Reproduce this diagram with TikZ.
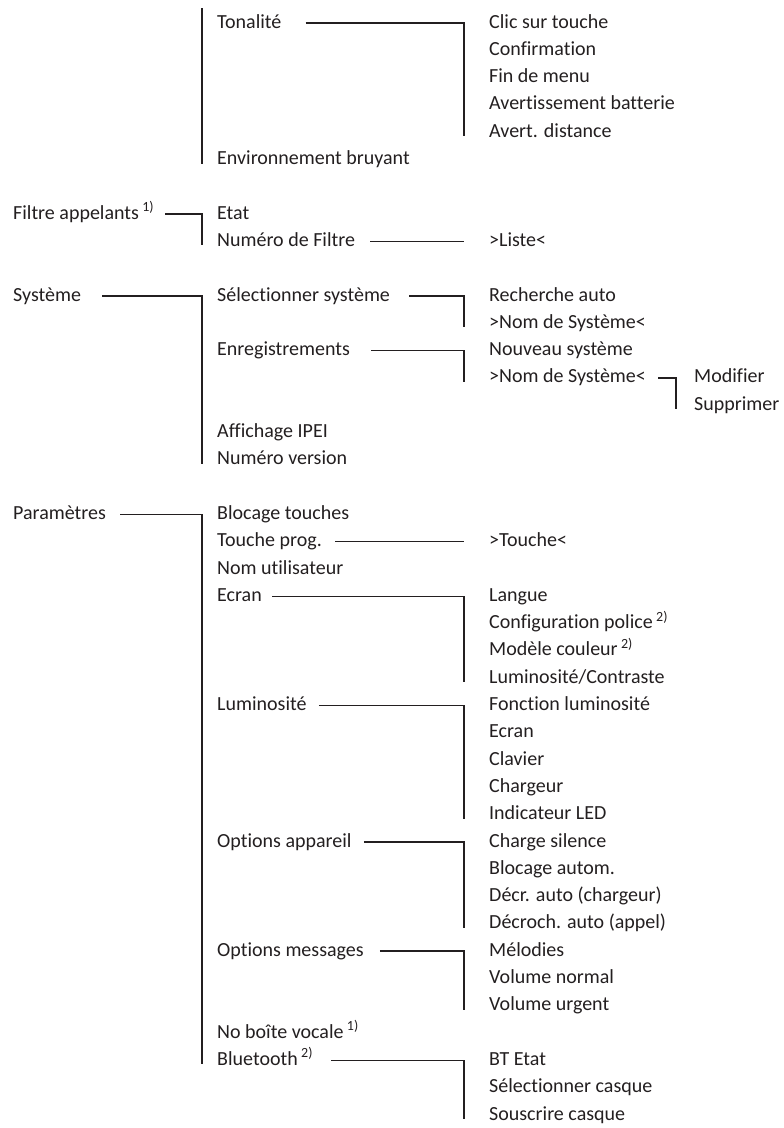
\documentclass[tikz,border=0pt]{standalone}
\usepackage{fontspec}
\setmainfont[Ligatures=NoCommon]{Carlito}
\definecolor{ink}{HTML}{231F20}
\newcommand{\fn}[1]{\,\textsuperscript{#1)}}

\begin{document}
\begin{tikzpicture}[
  x=1pt,y=-1pt,
  font=\fontsize{20}{24}\selectfont,
  item/.style={anchor=west,inner sep=0pt,text height=14pt,text depth=4pt,text=ink},
  link/.style={draw=ink,line width=1.5pt},
]
\useasboundingbox (0,0) rectangle (784,1128);
% level 1
\node[item] (filtre) at (13,214.1) {Filtre appelants\fn{1}};
\node[item] (sys) at (13,296) {Système};
\node[item] (param) at (13,514.4) {Paramètres};
% level 2
\node[item] (ton) at (217,23) {Tonalité};
\node[item] (env) at (217,159.5) {Environnement bruyant};
\node[item] (etat) at (217,214.1) {Etat};
\node[item] (numf) at (217,241.4) {Numéro de Filtre};
\node[item] (selsys) at (217,296) {Sélectionner système};
\node[item] (enreg) at (217,350.6) {Enregistrements};
\node[item] (ipei) at (217,432.5) {Affichage IPEI};
\node[item] (version) at (217,459.8) {Numéro version};
\node[item] (bloc) at (217,514.4) {Blocage touches};
\node[item] (tprog) at (217,541.7) {Touche prog.};
\node[item] (nomut) at (217,569) {Nom utilisateur};
\node[item] (ecran) at (217,596.3) {Ecran};
\node[item] (lum) at (217,705.5) {Luminosité};
\node[item] (optapp) at (217,842) {Options appareil};
\node[item] (optmsg) at (217,951.2) {Options messages};
\node[item] (boite) at (217,1033.1) {No boîte vocale\fn{1}};
\node[item] (bt) at (217,1060.4) {Bluetooth\fn{2}};
% level 3
\node[item] (clic) at (489,23) {Clic sur touche};
\node[item] (conf) at (489,50.3) {Confirmation};
\node[item] (fin) at (489,77.6) {Fin de menu};
\node[item] (avbat) at (489,104.9) {Avertissement batterie};
\node[item] (avdist) at (489,132.2) {Avert. distance};
\node[item] (liste) at (489,241.4) {>Liste<};
\node[item] (rech) at (489,296) {Recherche auto};
\node[item] (nomsysA) at (489,323.3) {>Nom de Système<};
\node[item] (nouv) at (489,350.6) {Nouveau système};
\node[item] (nomsysB) at (489,377.9) {>Nom de Système<};
\node[item] (touche) at (489,541.7) {>Touche<};
\node[item] (langue) at (489,596.3) {Langue};
\node[item] (police) at (489,623.6) {Configuration police\fn{2}};
\node[item] (couleur) at (489,650.9) {Modèle couleur\fn{2}};
\node[item] (contraste) at (489,678.2) {Luminosité/Contraste};
\node[item] (fonclum) at (489,705.5) {Fonction luminosité};
\node[item] (ecranB) at (489,732.8) {Ecran};
\node[item] (clavier) at (489,760.1) {Clavier};
\node[item] (chargeur) at (489,787.4) {Chargeur};
\node[item] (led) at (489,814.7) {Indicateur LED};
\node[item] (silence) at (489,842) {Charge silence};
\node[item] (blocauto) at (489,869.3) {Blocage autom.};
\node[item] (decr) at (489,896.6) {Décr. auto (chargeur)};
\node[item] (decroch) at (489,923.9) {Décroch. auto (appel)};
\node[item] (melod) at (489,951.2) {Mélodies};
\node[item] (volnorm) at (489,978.5) {Volume normal};
\node[item] (volurg) at (489,1005.8) {Volume urgent};
\node[item] (btetat) at (489,1060.4) {BT Etat};
\node[item] (selcasq) at (489,1087.7) {Sélectionner casque};
\node[item] (souscr) at (489,1115) {Souscrire casque};
% level 4
\node[item] (modif) at (694,377.9) {Modifier};
\node[item] (suppr) at (694,405.2) {Supprimer};
% connectors
\draw[link] ([xshift=-15pt,yshift=15pt]ton.west) -- ([xshift=-15pt,yshift=-4pt]env.west);
\draw[link] ([xshift=24pt]ton.east) -| ([xshift=-25pt,yshift=-4pt]avdist.west);
\draw[link] ([xshift=11pt]filtre.east) -| ([xshift=-15pt,yshift=-4pt]numf.west);
\draw[link] ([xshift=15pt]numf.east) -- ([xshift=-25pt]liste.west);
\draw[link] ([xshift=21pt]sys.east) -| ([xshift=-15pt,yshift=-4pt]version.west);
\draw[link] ([xshift=19pt]selsys.east) -| ([xshift=-25pt,yshift=-4pt]nomsysA.west);
\draw[link] ([xshift=21pt]enreg.east) -| ([xshift=-25pt,yshift=-4pt]nomsysB.west);
\draw[link] ([xshift=12pt]nomsysB.east) -| ([xshift=-18pt,yshift=-4pt]suppr.west);
\draw[link] ([xshift=14pt]param.east) -| ([xshift=-15pt,yshift=-4pt]bt.west);
\draw[link] ([xshift=13pt]tprog.east) -- ([xshift=-25pt]touche.west);
\draw[link] ([xshift=10pt]ecran.east) -| ([xshift=-25pt,yshift=-4pt]contraste.west);
\draw[link] ([xshift=12pt]lum.east) -| ([xshift=-25pt,yshift=-4pt]led.west);
\draw[link] ([xshift=12pt]optapp.east) -| ([xshift=-25pt,yshift=-4pt]decroch.west);
\draw[link] ([xshift=16pt]optmsg.east) -| ([xshift=-25pt,yshift=-4pt]volurg.west);
\draw[link] ([xshift=18pt]bt.east) -| ([xshift=-25pt,yshift=-4pt]souscr.west);
\end{tikzpicture}
\end{document}
